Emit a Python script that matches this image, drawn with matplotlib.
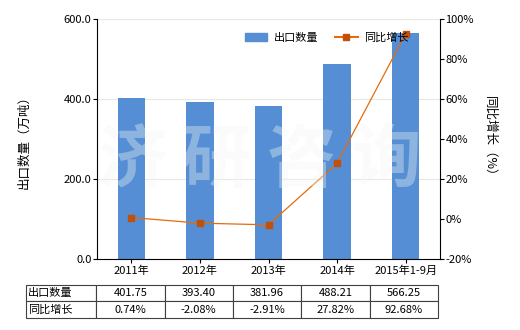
import matplotlib
matplotlib.use("Agg")
import matplotlib.pyplot as plt
from matplotlib.lines import Line2D
from matplotlib.patches import Patch

plt.rcParams['font.family'] = ['Noto Sans CJK SC', 'DejaVu Sans']

categories = ["2011年", "2012年", "2013年", "2014年", "2015年1-9月"]
export_qty = [401.75, 393.40, 381.96, 488.21, 566.25]
yoy_growth = [0.74, -2.08, -2.91, 27.82, 92.68]
qty_labels = ["401.75", "393.40", "381.96", "488.21", "566.25"]
growth_labels = ["0.74%", "-2.08%", "-2.91%", "27.82%", "92.68%"]
series_names = ["出口数量", "同比增长"]
watermark = "济研咨询"

bar_color = "#558ED5"
line_color = "#E46C0A"
marker_color = "#C0500A"

fig = plt.figure(figsize=(5.2, 3.3), dpi=100)
ax = fig.add_axes([97/520, 1-259/330, 343/520, 240/330])
x = list(range(len(categories)))
ax.bar(x, export_qty, width=0.4, color=bar_color, zorder=2)
ax.set_xlim(-0.5, len(categories)-0.5)
ax.set_ylim(0, 600)
ax.set_yticks([0, 200, 400, 600])
ax.set_yticklabels(["0.0", "200.0", "400.0", "600.0"], fontsize=8)
ax.set_xticks(x)
ax.set_xticklabels(categories, fontsize=8)
ax.tick_params(axis='x', length=3, pad=2)
ax.tick_params(axis='y', length=3, pad=1)
ax.grid(axis='y', color='#E8E8E0', linewidth=0.8, zorder=0)
for s in ['top', 'right']:
    ax.spines[s].set_visible(False)
ax.set_ylabel("出口数量（万吨）", fontsize=9, labelpad=24)

ax2 = ax.twinx()
ax2.plot(x, yoy_growth, color=line_color, linewidth=0.9, marker='s', markersize=5,
         markerfacecolor=marker_color, markeredgecolor=marker_color, zorder=3)
ax2.set_ylim(-20, 100)
ax2.set_yticks([-20, 0, 20, 40, 60, 80, 100])
ax2.set_yticklabels([f"{v}%" for v in [-20, 0, 20, 40, 60, 80, 100]], fontsize=8)
ax2.tick_params(axis='y', length=3, pad=1)
for s in ['top', 'left', 'bottom']:
    ax2.spines[s].set_visible(False)
ax2.set_ylabel("同比增长（%）", fontsize=9, rotation=-90, labelpad=16)

# watermark, one character at a time
wm_x = [132, 216, 301, 386]
for ch, px in zip(watermark, wm_x):
    fig.text(px/520, 1-162/330, ch, fontsize=50, color='#F2F6F2', alpha=0.36,
             ha='center', va='center', fontweight='bold', zorder=10)

handles = [Patch(color=bar_color),
           Line2D([0], [0], color=line_color, marker='s', markersize=4,
                  markerfacecolor=marker_color, markeredgecolor=marker_color)]
ax2.legend(handles, series_names, loc='center right', bbox_to_anchor=(0.925, 0.921),
           ncol=2, frameon=False, fontsize=8, handlelength=2.0, columnspacing=1.5,
           borderpad=0, handletextpad=0.6)

# table (label column included as first column)
cell_text = [[series_names[0]] + qty_labels, [series_names[1]] + growth_labels]
w_label = 70/343
w_data = (341/343) / 5
tab = ax.table(cellText=cell_text,
               colWidths=[w_label] + [w_data]*5,
               bbox=[-71/343, -0.246, 412/343, 0.138], cellLoc='center')
tab.auto_set_font_size(False)
tab.set_fontsize(8)
for (r, c), cell in tab.get_celld().items():
    cell.set_linewidth(0.8)
    cell.set_edgecolor('#404040')
    if c == 0:
        cell.get_text().set_ha('left')
        cell.PAD = 0.03

fig.savefig("out.png", dpi=100)
